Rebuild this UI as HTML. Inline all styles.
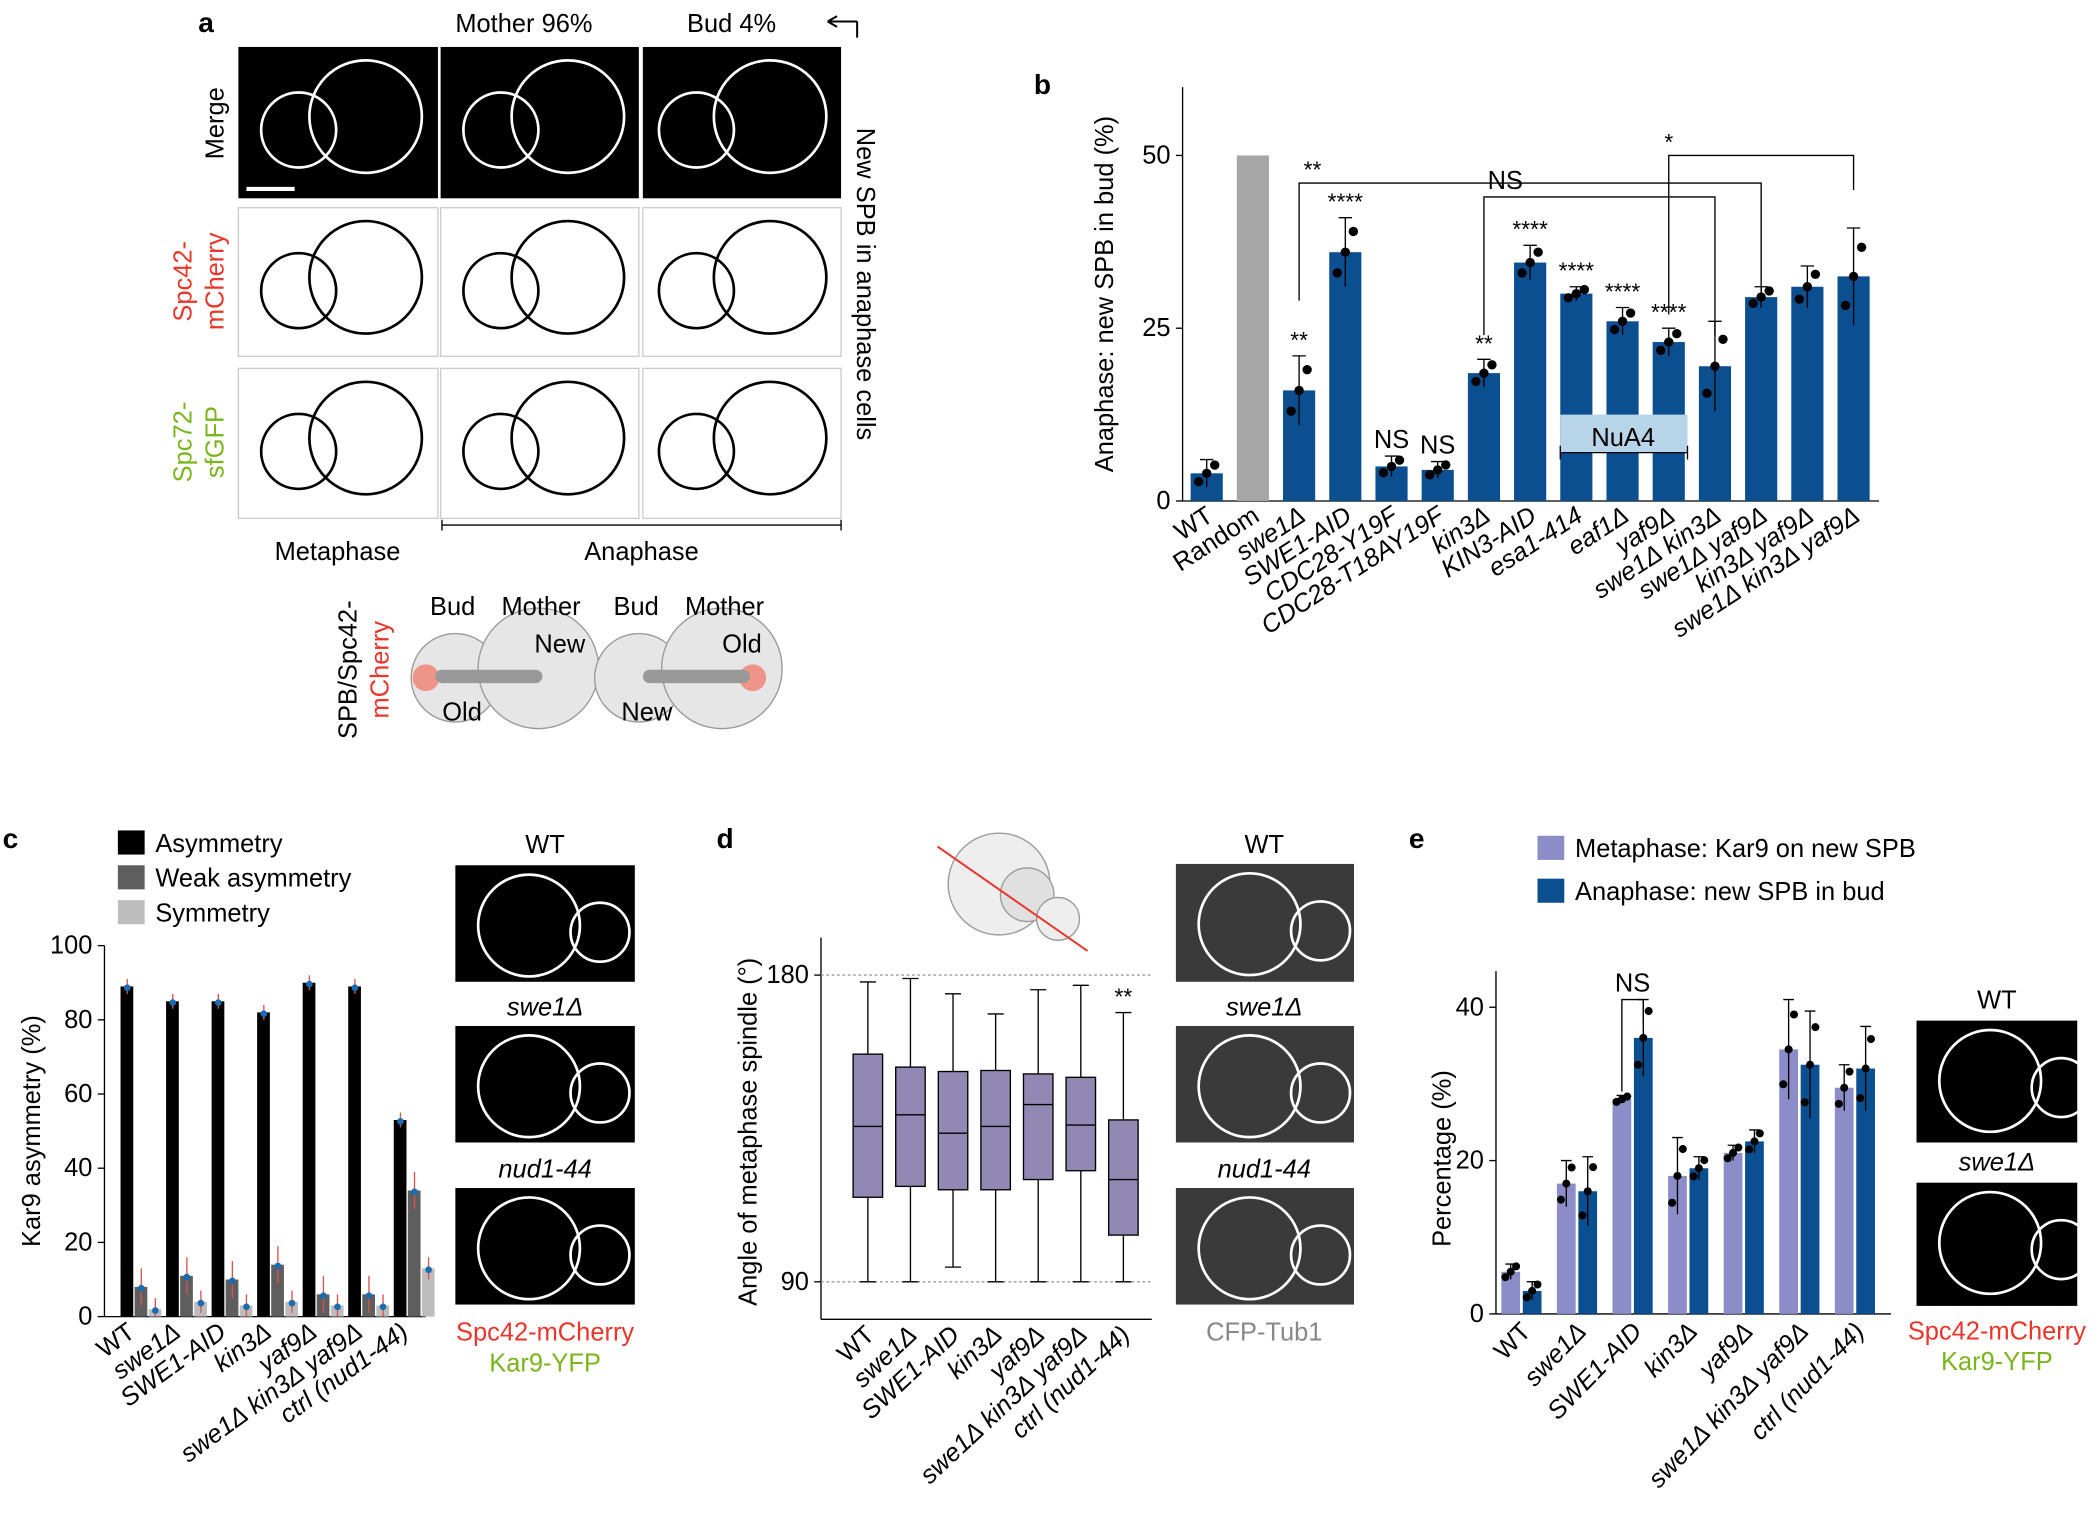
<!DOCTYPE html>
<html><head><meta charset="utf-8"><style>
html,body{margin:0;padding:0;background:#fff}
svg{display:block;font-family:"Liberation Sans",sans-serif}
</style></head><body>
<svg id="fig" width="2100" height="1535" viewBox="0 0 1568 1146" xmlns="http://www.w3.org/2000/svg">
<text x="148" y="24" font-size="21" font-weight="bold">a</text>
<text x="772" y="70" font-size="21" font-weight="bold">b</text>
<text x="2" y="633" font-size="21" font-weight="bold">c</text>
<text x="535" y="633" font-size="21" font-weight="bold">d</text>
<text x="1052" y="633" font-size="21" font-weight="bold">e</text>

<g>
<text x="340" y="24" font-size="19">Mother 96%</text>
<text x="513" y="24" font-size="19">Bud 4%</text>
<path d="M640 16 H618 M618 16 l7 -4 M618 16 l7 4 M640 16 V28" stroke="#000" stroke-width="1.5" fill="none"/>
<rect x="178" y="35" width="149" height="113" fill="#000"/>
<rect x="329" y="35" width="148" height="113" fill="#000"/>
<rect x="480" y="35" width="148" height="113" fill="#000"/>
<rect x="178" y="155" width="149" height="111" fill="#fff" stroke="#ccc"/>
<rect x="329" y="155" width="148" height="111" fill="#fff" stroke="#ccc"/>
<rect x="480" y="155" width="148" height="111" fill="#fff" stroke="#ccc"/>
<rect x="178" y="275" width="149" height="112" fill="#fff" stroke="#ccc"/>
<rect x="329" y="275" width="148" height="112" fill="#fff" stroke="#ccc"/>
<rect x="480" y="275" width="148" height="112" fill="#fff" stroke="#ccc"/>
<line x1="184" y1="141" x2="220" y2="141" stroke="#fff" stroke-width="3"/>
<text font-size="19" transform="translate(167,92) rotate(-90)" text-anchor="middle">Merge</text>
<text font-size="19" fill="#e8362a" transform="translate(143,210) rotate(-90)" text-anchor="middle">Spc42-</text>
<text font-size="19" fill="#e8362a" transform="translate(167,210) rotate(-90)" text-anchor="middle">mCherry</text>
<text font-size="19" fill="#7ab51d" transform="translate(143,330) rotate(-90)" text-anchor="middle">Spc72-</text>
<text font-size="19" fill="#7ab51d" transform="translate(167,330) rotate(-90)" text-anchor="middle">sfGFP</text>
<text font-size="19" transform="translate(640,212) rotate(90)" text-anchor="middle">New SPB in anaphase cells</text>
<text x="252" y="418" font-size="19" text-anchor="middle">Metaphase</text>
<text x="479" y="418" font-size="19" text-anchor="middle">Anaphase</text>
<path d="M330 392 H628 M330 388 V396 M628 388 V396" stroke="#000" fill="none"/>
<text font-size="19" transform="translate(266,500) rotate(-90)" text-anchor="middle">SPB/Spc42-</text>
<text font-size="19" fill="#e8362a" transform="translate(290,500) rotate(-90)" text-anchor="middle">mCherry</text>
<g>
<circle cx="340" cy="506" r="33" fill="#e6e6e6" stroke="#999"/>
<circle cx="402" cy="499" r="45" fill="#e6e6e6" stroke="#999"/>
<circle cx="318" cy="506" r="10" fill="#f08070" opacity="0.8"/>
<rect x="325" y="500" width="80" height="10" rx="5" fill="#999"/>
<circle cx="477" cy="506" r="33" fill="#e6e6e6" stroke="#999"/>
<circle cx="539" cy="499" r="45" fill="#e6e6e6" stroke="#999"/>
<circle cx="562" cy="506" r="10" fill="#f08070" opacity="0.8"/>
<rect x="480" y="500" width="80" height="10" rx="5" fill="#999"/>
</g>
<text x="338" y="459" font-size="19" text-anchor="middle">Bud</text>
<text x="404" y="459" font-size="19" text-anchor="middle">Mother</text>
<text x="475" y="459" font-size="19" text-anchor="middle">Bud</text>
<text x="541" y="459" font-size="19" text-anchor="middle">Mother</text>
<text x="418" y="487" font-size="19" text-anchor="middle">New</text>
<text x="345" y="538" font-size="19" text-anchor="middle">Old</text>
<text x="483" y="538" font-size="19" text-anchor="middle">New</text>
<text x="554" y="487" font-size="19" text-anchor="middle">Old</text>
</g>

<g>
<text x="407" y="637" font-size="19" text-anchor="middle">WT</text>
<rect x="340" y="646" width="134" height="87" fill="#000"/>
<text x="407" y="758" font-size="19" font-style="italic" text-anchor="middle">swe1Δ</text>
<rect x="340" y="766" width="134" height="87" fill="#000"/>
<text x="407" y="879" font-size="19" font-style="italic" text-anchor="middle">nud1-44</text>
<rect x="340" y="887" width="134" height="87" fill="#000"/>
<text x="407" y="1001" font-size="19" fill="#e8362a" text-anchor="middle">Spc42-mCherry</text>
<text x="407" y="1024" font-size="19" fill="#7ab51d" text-anchor="middle">Kar9-YFP</text>
</g>
<g>
<text x="944" y="637" font-size="19" text-anchor="middle">WT</text>
<rect x="878" y="645" width="133" height="88" fill="#3a3a3a"/>
<text x="944" y="758" font-size="19" font-style="italic" text-anchor="middle">swe1Δ</text>
<rect x="878" y="766" width="133" height="87" fill="#3a3a3a"/>
<text x="944" y="879" font-size="19" font-style="italic" text-anchor="middle">nud1-44</text>
<rect x="878" y="887" width="133" height="87" fill="#3a3a3a"/>
<text x="944" y="1001" font-size="19" fill="#888" text-anchor="middle">CFP-Tub1</text>
<circle cx="746" cy="660" r="38" fill="#eee" stroke="#999"/>
<circle cx="767" cy="668" r="20" fill="#e0e0e0" stroke="#999"/>
<circle cx="790" cy="686" r="16" fill="#eee" stroke="#999"/>
<line x1="700" y1="632" x2="812" y2="710" stroke="#e8362a" stroke-width="1.5"/>
</g>
<g>
<text x="1491" y="753" font-size="19" text-anchor="middle">WT</text>
<rect x="1431" y="762" width="120" height="91" fill="#000"/>
<text x="1491" y="874" font-size="19" font-style="italic" text-anchor="middle">swe1Δ</text>
<rect x="1431" y="883" width="120" height="92" fill="#000"/>
<text x="1491" y="1000" font-size="19" fill="#e8362a" text-anchor="middle">Spc42-mCherry</text>
<text x="1491" y="1023" font-size="19" fill="#7ab51d" text-anchor="middle">Kar9-YFP</text>
</g>

<g id="chartB"></g>
<g id="chartC"></g>
<g id="chartD"></g>
<g id="chartE"></g>
<g id="cellsA" fill="none" stroke-width="2"></g>
</svg>
<script>
const NS="http://www.w3.org/2000/svg";
function mk(parent,tag,attrs,txt){const e=document.createElementNS(NS,tag);for(const k in attrs)e.setAttribute(k,attrs[k]);if(txt!==undefined)e.textContent=txt;parent.appendChild(e);return e;}

const cellsA=document.getElementById('cellsA');
[[178,35,'#fff'],[329,35,'#fff'],[480,35,'#fff'],[178,155,'#000'],[329,155,'#000'],[480,155,'#000'],[178,275,'#000'],[329,275,'#000'],[480,275,'#000']].forEach((p,i)=>{
  const c=i%3;
  const bx=p[0]+(c==0?40:(c==1?40:35)), mx=p[0]+95;
  mk(cellsA,'circle',{cx:bx+5,cy:p[1]+62,r:28,stroke:p[2]});
  mk(cellsA,'circle',{cx:mx,cy:p[1]+52,r:42,stroke:p[2]});
});
[[340,646],[340,766],[340,887],[878,645],[878,766],[878,887],[1431,762],[1431,883]].forEach(p=>{
  mk(cellsA,'circle',{cx:p[0]+55,cy:p[1]+45,r:38,stroke:'#fff'});
  mk(cellsA,'circle',{cx:p[0]+108,cy:p[1]+50,r:22,stroke:'#fff'});
});

const bCats=["WT","Random","swe1Δ","SWE1-AID","CDC28-Y19F","CDC28-T18AY19F","kin3Δ","KIN3-AID","esa1-414","eaf1Δ","yaf9Δ","swe1Δ kin3Δ","swe1Δ yaf9Δ","kin3Δ yaf9Δ","swe1Δ kin3Δ yaf9Δ"];
const bVals=[4,50,16,36,5,4.5,18.5,34.5,30,26,23,19.5,29.5,31,32.5];
const bErr=[2,0,5,5,1.5,1.2,2,2.5,1,2,2,6.5,1.5,3,7];
const bSig=["","","**","****","NS","NS","**","****","****","****","****","","","",""];
const bTicks=[0,25,50];
(function(){
  const g=document.getElementById('chartB');
  const x0=883, yb=374, yt=116;
  const y=v=>yb-(v/50)*(yb-yt);
  const x=i=>901+i*34.5;
  mk(g,'line',{x1:x0,y1:65,x2:x0,y2:yb,stroke:'#000'});
  mk(g,'line',{x1:x0,y1:yb,x2:1403,y2:yb,stroke:'#000'});
  bTicks.forEach(t=>{mk(g,'line',{x1:x0-5,y1:y(t),x2:x0,y2:y(t),stroke:'#000'});
    const tl=mk(g,'text',{x:x0-9,y:y(t)+6,'font-size':19,'text-anchor':'end'},String(t));
    
    });
  const yt2=mk(g,'text',{transform:`translate(${x0-52},${(yb+65)/2}) rotate(-90)`,'font-size':19,'text-anchor':'middle'},"Anaphase: new SPB in bud (%)");
  
  
  bCats.forEach((c,i)=>{
    const b=mk(g,'rect',{x:x(i)-12,y:y(bVals[i]),width:24,height:yb-y(bVals[i]),fill:i==1?'#a6a6a6':'#0b4f91'});
    
    
    if(bErr[i]>0){mk(g,'path',{d:`M${x(i)} ${y(bVals[i]+bErr[i])} V${y(bVals[i]-bErr[i])} M${x(i)-5} ${y(bVals[i]+bErr[i])} H${x(i)+5}`,stroke:'#000',fill:'none'});
      [-1,0,1].forEach(k=>mk(g,'circle',{cx:x(i)+k*6,cy:y(bVals[i]+k*bErr[i]*0.6),r:3.5,fill:'#000'}));}
    if(bSig[i]){mk(g,'text',{x:x(i),y:y(bVals[i]+bErr[i])-6,'font-size':bSig[i]=="NS"?19:17,'text-anchor':'middle'},bSig[i]);}
    const l=mk(g,'text',{transform:`translate(${x(i)+6},${yb+14}) rotate(-33)`,'font-size':19,'text-anchor':'end','font-style':i<2?'normal':'italic'},c);
    
    
  });
  const nb=mk(g,'rect',{x:1165,y:y(12.5),width:95,height:y(7)-y(12.5),fill:'#b8d4e8'});
  
  
  mk(g,'line',{x1:1165,y1:y(7),x2:1260,y2:y(7),stroke:'#000'});
  mk(g,'path',{d:`M1165 ${y(6)} V${y(8)} M1260 ${y(6)} V${y(8)}`,stroke:'#000'});
  mk(g,'text',{x:1212,y:y(7)-5,'font-size':19,'text-anchor':'middle'},"NuA4");
  mk(g,'path',{d:`M${x(2)} ${y(29)} V${y(46)} H${x(12)} V${y(29)}`,stroke:'#000',fill:'none'});
  mk(g,'text',{x:980,y:y(46)-4,'font-size':17,'text-anchor':'middle'},"**");
  mk(g,'path',{d:`M${x(6)} ${y(24)} V${y(44)} H${x(11)} V${y(24)}`,stroke:'#000',fill:'none'});
  mk(g,'text',{x:1124,y:y(44)-6,'font-size':19,'text-anchor':'middle'},"NS");
  mk(g,'path',{d:`M${x(10)} ${y(27)} V${y(50)} H${x(14)} V${y(45)}`,stroke:'#000',fill:'none'});
  mk(g,'text',{x:x(10),y:y(50)-4,'font-size':17,'text-anchor':'middle'},"*");
})();

const cCats=["WT","swe1Δ","SWE1-AID","kin3Δ","yaf9Δ","swe1Δ kin3Δ yaf9Δ","ctrl (nud1-44)"];
const cAsym=[89,85,85,82,90,89,53];
const cWeak=[8,11,10,14,6,6,34];
const cSym=[2,4,3,4,3,3,13];
const cTicks=[0,20,40,60,80,100];
(function(){
  const g=document.getElementById('chartC');
  const x0=78,yb=983,yt=706;
  const y=v=>yb-v/100*(yb-yt);
  mk(g,'line',{x1:x0,y1:yt,x2:x0,y2:yb,stroke:'#000'});
  mk(g,'line',{x1:x0,y1:yb,x2:318,y2:yb,stroke:'#000'});
  cTicks.forEach(t=>{mk(g,'line',{x1:x0-5,y1:y(t),x2:x0,y2:y(t),stroke:'#000'});
    const tl=mk(g,'text',{x:x0-9,y:y(t)+6,'font-size':19,'text-anchor':'end'},String(t));
    
    });
  const tt=mk(g,'text',{transform:`translate(30,${(yb+yt)/2}) rotate(-90)`,'font-size':19,'text-anchor':'middle'},"Kar9 asymmetry (%)");
  
  
  const cols=['#000','#5e5e5e','#bdbdbd'];
  const names=['Asymmetry','Weak asymmetry','Symmetry'];
  names.forEach((n,k)=>{const r=mk(g,'rect',{x:88,y:620+k*26,width:20,height:18,fill:cols[k]});
    
    
    mk(g,'text',{x:116,y:636+k*26,'font-size':19},n);});
  const series=[cAsym,cWeak,cSym];
  const errs=[2,5,3];
  cCats.forEach((c,i)=>{
    const gx=90+i*34;
    series.forEach((s,k)=>{const bx=gx+k*10.5;
      const r=mk(g,'rect',{x:bx,y:y(s[i]),width:9.5,height:yb-y(s[i]),fill:cols[k]});
      
      
      mk(g,'line',{x1:bx+5,y1:y(s[i]+errs[k]),x2:bx+5,y2:y(Math.max(0,s[i]-errs[k])),stroke:'#d9534f','stroke-width':1});
      mk(g,'circle',{cx:bx+5,cy:y(s[i])+1,r:2.5,fill:'#1a6bb0'});
    });
    const l=mk(g,'text',{transform:`translate(${gx+12},${yb+14}) rotate(-36)`,'font-size':19,'text-anchor':'end','font-style':i==0?'normal':'italic'},c);
    
    
  });
})();

const dCats=["WT","swe1Δ","SWE1-AID","kin3Δ","yaf9Δ","swe1Δ kin3Δ yaf9Δ","ctrl (nud1-44)"];
const dMax=[178,179,174.5,168.6,175.7,177,169];
const dQ3=[156.8,153,151.7,152,151,150,137.5];
const dMed=[135.6,139,133.6,135.6,142,136,120];
const dQ1=[114.8,118,117,117,120,122.6,103.7];
const dMin=[90,90,94.3,90,90,90,90];
const dTicks=[90,180];
(function(){
  const g=document.getElementById('chartD');
  const x0=613,y180=728,y90=957;
  const y=v=>y90-(v-90)/90*(y90-y180);
  const x=i=>648+i*31.8;
  mk(g,'line',{x1:x0,y1:700,x2:x0,y2:985,stroke:'#000'});
  mk(g,'line',{x1:x0,y1:985,x2:860,y2:985,stroke:'#000'});
  dTicks.forEach(t=>{mk(g,'line',{x1:x0,y1:y(t),x2:860,y2:y(t),stroke:'#999','stroke-dasharray':'2,2'});
    mk(g,'line',{x1:x0-5,y1:y(t),x2:x0,y2:y(t),stroke:'#000'});
    const tl=mk(g,'text',{x:x0-9,y:y(t)+6,'font-size':19,'text-anchor':'end'},String(t));
    
    });
  const tt=mk(g,'text',{transform:`translate(565,845) rotate(-90)`,'font-size':19,'text-anchor':'middle'},"Angle of metaphase spindle (°)");
  
  
  dCats.forEach((c,i)=>{
    const cx=x(i);
    mk(g,'path',{d:`M${cx} ${y(dMax[i])} V${y(dQ3[i])} M${cx} ${y(dQ1[i])} V${y(dMin[i])} M${cx-6} ${y(dMax[i])} H${cx+6} M${cx-6} ${y(dMin[i])} H${cx+6}`,stroke:'#000',fill:'none'});
    const b=mk(g,'rect',{x:cx-11,y:y(dQ3[i]),width:22,height:y(dQ1[i])-y(dQ3[i]),fill:'#9189b3',stroke:'#000'});
    
    
    mk(g,'line',{x1:cx-11,y1:y(dMed[i]),x2:cx+11,y2:y(dMed[i]),stroke:'#000'});
    const l=mk(g,'text',{transform:`translate(${cx+6},${998}) rotate(-43)`,'font-size':19,'text-anchor':'end','font-style':i==0?'normal':'italic'},c);
    
    
  });
  mk(g,'text',{x:x(6),y:y(dMax[6])-6,'font-size':17,'text-anchor':'middle'},"**");
})();

const eCats=["WT","swe1Δ","SWE1-AID","kin3Δ","yaf9Δ","swe1Δ kin3Δ yaf9Δ","ctrl (nud1-44)"];
const eMeta=[5.5,17,28,18,21,34.5,29.5];
const eAna=[3,16,36,19,22.5,32.5,32];
const eMetaErr=[1,3,0.5,5,1,6.5,3];
const eAnaErr=[1.2,4.5,5,1.5,1.5,7,5.5];
const eTicks=[0,20,40];
(function(){
  const g=document.getElementById('chartE');
  const x0=1117,yb=981,y40=752;
  const y=v=>yb-v/40*(yb-y40);
  mk(g,'line',{x1:x0,y1:725,x2:x0,y2:yb,stroke:'#000'});
  mk(g,'line',{x1:x0,y1:yb,x2:1412,y2:yb,stroke:'#000'});
  eTicks.forEach(t=>{mk(g,'line',{x1:x0-5,y1:y(t),x2:x0,y2:y(t),stroke:'#000'});
    const tl=mk(g,'text',{x:x0-9,y:y(t)+6,'font-size':19,'text-anchor':'end'},String(t));
    
    });
  const tt=mk(g,'text',{transform:`translate(1083,865) rotate(-90)`,'font-size':19,'text-anchor':'middle'},"Percentage (%)");
  
  
  const lg1=mk(g,'rect',{x:1148,y:624,width:20,height:18,fill:'#8c8cc8'});
  
  
  mk(g,'text',{x:1176,y:640,'font-size':19},"Metaphase: Kar9 on new SPB");
  const lg2=mk(g,'rect',{x:1148,y:656,width:20,height:18,fill:'#0b4f91'});
  
  
  mk(g,'text',{x:1176,y:672,'font-size':19},"Anaphase: new SPB in bud");
  const xs=i=>1136+i*41.5;
  eCats.forEach((c,i)=>{
    [[eMeta,eMetaErr,'#8c8cc8',-8],[eAna,eAnaErr,'#0b4f91',8]].forEach(([s,e,col,off],k)=>{
      const cx=xs(i)+off;
      const r=mk(g,'rect',{x:cx-7,y:y(s[i]),width:14,height:yb-y(s[i]),fill:col});
      
      
      mk(g,'path',{d:`M${cx} ${y(s[i]+e[i])} V${y(s[i]-e[i])} M${cx-4} ${y(s[i]+e[i])} H${cx+4}`,stroke:'#000',fill:'none'});
      [-1,0,1].forEach(q=>mk(g,'circle',{cx:cx+q*4,cy:y(s[i]+q*e[i]*0.7),r:3,fill:'#000'}));
    });
    const l=mk(g,'text',{transform:`translate(${xs(i)+8},${yb+14}) rotate(-46)`,'font-size':19,'text-anchor':'end','font-style':i==0?'normal':'italic'},c);
    
    
  });
  mk(g,'path',{d:`M${xs(2)-8} ${y(29)} V${y(41)} H${xs(2)+8} V${y(38)}`,stroke:'#000',fill:'none'});
  mk(g,'text',{x:xs(2),y:y(41)-6,'font-size':19,'text-anchor':'middle'},"NS");
})();
</script>
</body></html>
